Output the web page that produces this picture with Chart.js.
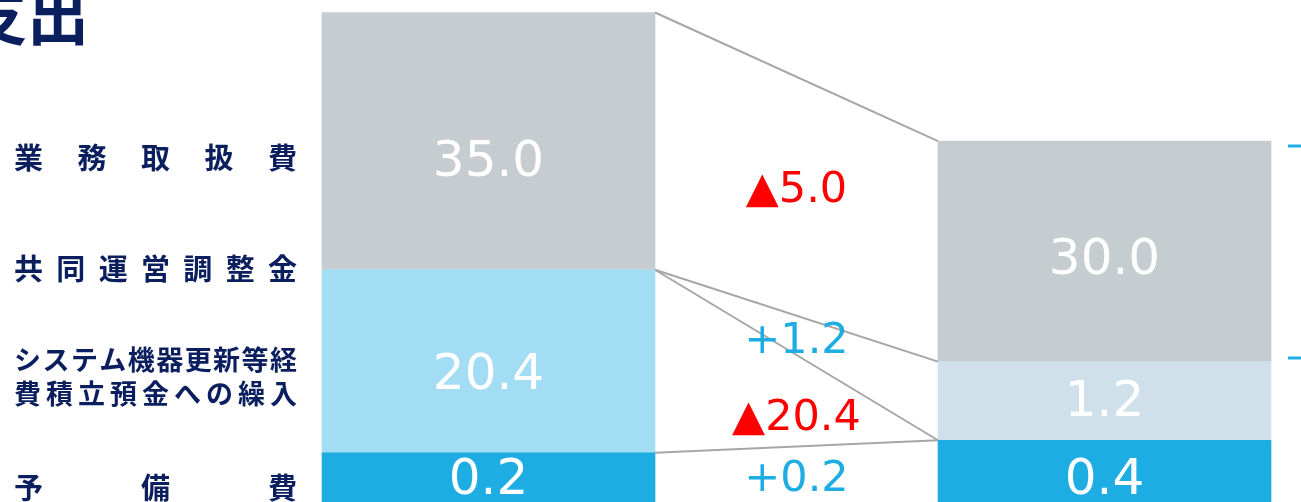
<!DOCTYPE html>
<html lang="ja">
<head>
<meta charset="utf-8">
<script src="https://cdn.jsdelivr.net/npm/chart.js@4.4.1/dist/chart.umd.min.js"></script>
<style>
  html, body { margin: 0; padding: 0; background: #fff; overflow: hidden; }
  #wrap { position: relative; width: 1301px; height: 502px; }
</style>
</head>
<body>
<div id="wrap"><canvas id="chart"></canvas></div>
<script>
// 費目（下から積み上げる順）
const categories = ['予備費', 'システム機器更新等経費積立預金への繰入', '共同運営調整金', '業務取扱費'];
const labelLines = [['予備費'], ['システム機器更新等経', '費積立預金への繰入'], ['共同運営調整金'], ['業務取扱費']];

// 金額（左の棒 / 右の棒）
const before = [0.2, 20.4, 0, 35.0];
const after = [0.4, 0, 1.2, 30.0];

// 元の図は縮尺どおりではないので、棒の見た目の高さは別に持つ
const beforeShown = [6.7, 24.9, 0, 35.0];
const afterShown = [8.4, 0, 10.7, 30.0];

const colors = ['#1eade3', '#a3ddf3', '#cfe0eb', '#c5cdd1'];
const navy = '#0b1f5e';
const numFont = '"DejaVu Sans", Verdana, sans-serif';
const jpFont = '"Noto Sans CJK JP", sans-serif';

// 増減の表示（マイナスは▲）
function deltaText(i){
  const d = Math.round((after[i] - before[i]) * 10) / 10;
  return d < 0 ? '▲' + Math.abs(d).toFixed(1) : '+' + d.toFixed(1);
}

// 文字を左右いっぱいに均等に並べる
function drawJustified(ctx, text, x0, x1, y){
  const chars = [...text];
  const widths = chars.map(c => ctx.measureText(c).width);
  const total = widths.reduce((a, b) => a + b, 0);
  const gap = chars.length > 1 ? (x1 - x0 - total) / (chars.length - 1) : 0;
  let x = x0;
  chars.forEach((c, k) => {
    ctx.fillText(c, x, y);
    x += widths[k] + gap;
  });
}

const overlay = {
  id: 'overlay',
  afterDatasetsDraw(chart, args, opts){
    const ctx = chart.ctx;
    const metas = chart.data.datasets.map((d, i) => chart.getDatasetMeta(i));
    ctx.save();

    // 棒どうしをつなぐ線
    ctx.strokeStyle = '#a6a6a6';
    ctx.lineWidth = 2;
    metas.forEach(m => {
      const a = m.data[0], b = m.data[1];
      ctx.beginPath();
      ctx.moveTo(a.x + a.width / 2, a.y);
      ctx.lineTo(b.x - b.width / 2, b.y);
      ctx.stroke();
    });

    // 棒の中の金額
    ctx.textAlign = 'center';
    ctx.textBaseline = 'middle';
    ctx.fillStyle = '#fff';
    ctx.font = '50px ' + numFont;
    metas.forEach((m, i) => {
      [before, after].forEach((vals, j) => {
        if(!vals[i]) return;
        const el = m.data[j];
        ctx.fillText(vals[i].toFixed(1), el.x, (el.y + el.base) / 2 + opts.valueShift[j][i]);
      });
    });

    // 増減
    ctx.font = '43px ' + numFont;
    metas.forEach((m, i) => {
      const a = m.data[0], b = m.data[1];
      const x = ((a.x + a.width / 2) + (b.x - b.width / 2)) / 2;
      const y = ((a.y + a.base) / 2 + (b.y + b.base) / 2) / 2 + opts.deltaShift[i];
      ctx.fillStyle = after[i] < before[i] ? '#ff0000' : '#1eade3';
      ctx.fillText(deltaText(i), x, y);
    });

    // 左側の費目名
    ctx.fillStyle = navy;
    ctx.textAlign = 'left';
    labelLines.forEach((lines, i) => {
      ctx.font = 'bold ' + (lines.length > 1 ? 27 : 29) + 'px ' + jpFont;
      lines.forEach((t, k) => drawJustified(ctx, t, 14, 297, opts.labelY[i][k]));
    });

    // タイトル（上が切れている）
    ctx.font = 'bold 62px ' + jpFont;
    ctx.textAlign = 'right';
    ctx.textBaseline = 'alphabetic';
    ctx.fillText('支出', 89, 40);

    // 右端の目盛り
    ctx.strokeStyle = '#1eade3';
    ctx.lineWidth = 3;
    opts.ticksRight.forEach(y => {
      ctx.beginPath();
      ctx.moveTo(1288, y);
      ctx.lineTo(1301, y);
      ctx.stroke();
    });

    ctx.restore();
  }
};

new Chart(document.getElementById('chart'), {
  type: 'bar',
  data: {
    datasets: categories.map((name, i) => ({
      label: name,
      data: [{ x: 0, y: beforeShown[i] }, { x: 1, y: afterShown[i] }],
      backgroundColor: colors[i],
      borderWidth: 0,
      barThickness: 333
    }))
  },
  options: {
    responsive: true,
    maintainAspectRatio: false,
    animation: false,
    layout: { padding: 0 },
    scales: {
      x: { type: 'linear', stacked: true, display: false, offset: false, min: -0.793, max: 1.319 },
      y: { stacked: true, display: false, min: 0, max: 68.3 }
    },
    plugins: {
      legend: { display: false },
      tooltip: { enabled: false },
      overlay: {
        valueShift: [[4, 15, 0, 22], [10, 0, 2, 10]],
        deltaShift: [6, 18, 6, -5],
        labelY: [[488], [360, 394], [269], [158]],
        ticksRight: [146, 358]
      }
    }
  },
  plugins: [overlay]
});
</script>
</body>
</html>
